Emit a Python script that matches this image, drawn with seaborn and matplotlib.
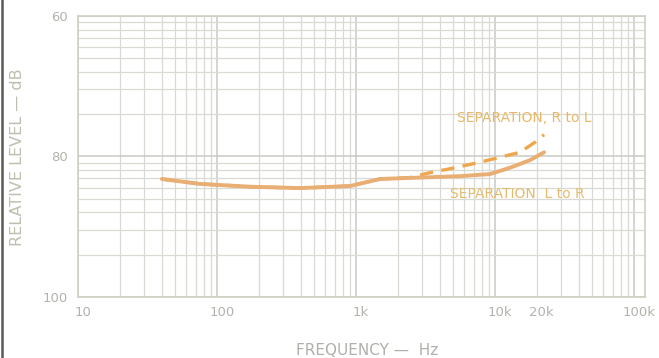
import numpy as np
import pandas as pd
import matplotlib
matplotlib.use("Agg")
import matplotlib.pyplot as plt
import matplotlib.ticker as mticker
from matplotlib.lines import Line2D
import seaborn as sns

# Separation curves (Hz, dB)
freq_rl = [40, 75, 173, 395, 905, 1490, 2450, 3400, 5150, 7800, 10900, 15100, 19600, 22500]
level_rl = [83.2, 83.9, 84.3, 84.5, 84.2, 83.2, 83.0, 82.3, 81.6, 80.8, 80.1, 79.4, 77.9, 76.9]

freq_lr = [40, 75, 173, 395, 905, 1490, 2450, 4000, 5600, 9200, 12800, 17900, 22500]
level_lr = [83.2, 83.9, 84.3, 84.5, 84.2, 83.2, 83.05, 82.9, 82.8, 82.5, 81.6, 80.5, 79.4]

x_ticks = [10, 100, 1000, 10000, 20000, 100000]
x_tick_labels = ["10", "100", "1k", "10k", "20k", "100k"]
y_ticks = [60, 80, 100]

df_rl = pd.DataFrame({"freq": freq_rl, "level": level_rl})
df_lr = pd.DataFrame({"freq": freq_lr, "level": level_lr})

sns.set_style("white")
plt.rcParams["font.family"] = ["DejaVu Sans"]

fig = plt.figure(figsize=(6.59, 3.58), dpi=100)
ax = fig.add_axes([0.1184, 0.1704, 0.8606, 0.7849])

# log-log graph paper grid
ax.set_xscale("log")
ax.set_xlim(10, 120000)
ax.set_ylim(100, 60)
ax.xaxis.set_major_locator(mticker.FixedLocator([10, 100, 1000, 10000, 100000]))
ax.xaxis.set_minor_locator(mticker.LogLocator(base=10, subs=range(2, 10), numticks=50))
ax.xaxis.set_minor_formatter(mticker.NullFormatter())
ax.xaxis.set_major_formatter(mticker.NullFormatter())
k = np.arange(2, 10)
minor_y = list(80 - 20 * np.log10(k)) + list(100 - 20 * np.log10(k))
ax.yaxis.set_major_locator(mticker.FixedLocator(y_ticks))
ax.yaxis.set_minor_locator(mticker.FixedLocator(minor_y))
ax.grid(which="major", color="#c9c9c4", lw=1.1)
ax.grid(which="minor", color="#dadad5", lw=0.9)
ax.tick_params(which="both", length=0)
ax.set_yticks(y_ticks)
ax.set_yticklabels([str(v) for v in y_ticks], color="#b3b3ad", fontsize=9.5)
ax.tick_params(axis="y", pad=7)
for s in ax.spines.values():
    s.set_color("#cfd1c4")
    s.set_linewidth(1.2)

# curves: dashed first so the shared part reads as one line
sns.lineplot(data=df_rl, x="freq", y="level", ax=ax, color="#efa64c", lw=2.4,
             linestyle=(0, (4, 2.5)), sort=False)
sns.lineplot(data=df_lr, x="freq", y="level", ax=ax, color="#e9ae74", lw=2.8,
             sort=False)

# x tick labels placed on the axis (library transform)
for f, lab in zip(x_ticks, x_tick_labels):
    ax.text(f * 1.08, 102.2, lab, ha="center", va="center", fontsize=9.5,
            color="#b3b3ad", clip_on=False)

ax.text(5300, 74.5, "SEPARATION, R to L", fontsize=10, color="#e8b868",
        va="center", ha="left")
ax.text(4700, 85.3, "SEPARATION  L to R", fontsize=10, color="#e3bc6e",
        va="center", ha="left")

ax.set_xlabel("")
ax.set_ylabel("")
fig.text(0.557, 0.022, "FREQUENCY \u2014  Hz", ha="center", va="center",
         fontsize=11, color="#b0b0ab")
fig.text(0.027, 0.56, "RELATIVE LEVEL \u2014 dB", ha="center", va="center",
         rotation=90, fontsize=11.5, color="#bcc0ad")

# dark scan edge on the left
fig.add_artist(Line2D([0.003, 0.003], [0, 1], color="#5a5a55", lw=1.8))

fig.savefig("out.png", dpi=100)
